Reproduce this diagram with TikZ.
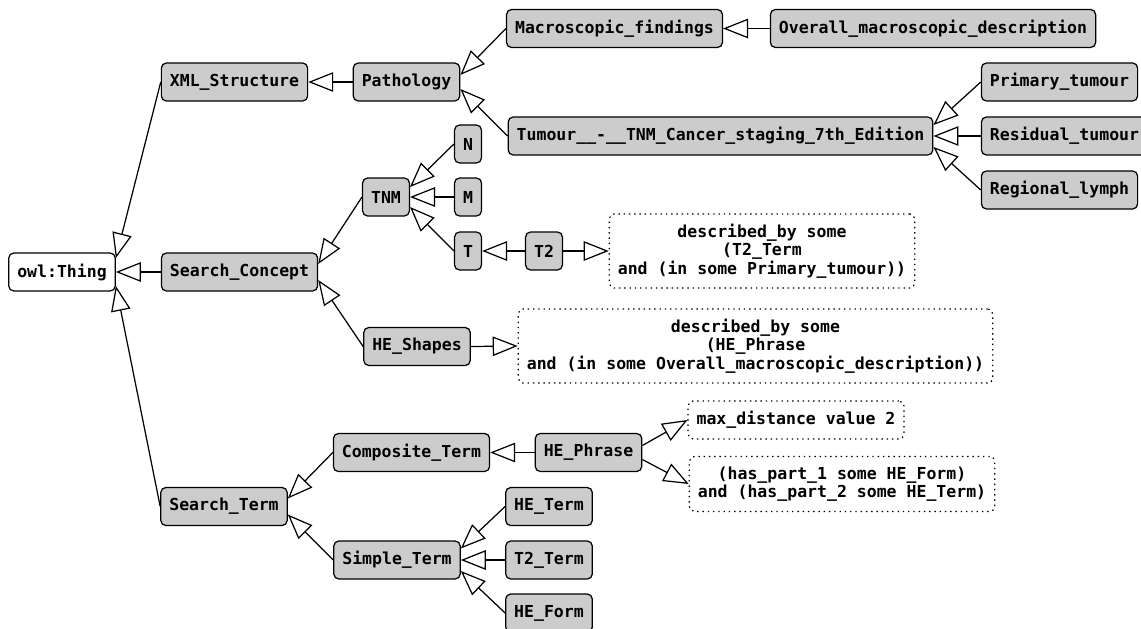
\documentclass[tikz,border=0pt]{standalone}
\usepackage{fontspec}
\setmonofont{DejaVu Sans Mono}
\usetikzlibrary{arrows.meta}
\definecolor{cgray}{rgb}{0.8, 0.8, 0.8}

\tikzset{
  label font/.style={font=\ttfamily\bfseries\fontsize{9.4}{10.5}\selectfont},
  cls/.style={draw, fill=cgray, rounded corners=0.1cm, line width=0.7pt, label font,
    inner xsep=0.17cm, inner ysep=0pt, minimum height=0.76cm},
  root/.style={cls, fill=white},
  restr/.style={draw, dash pattern=on 0.8pt off 2.2pt, rounded corners=0.1cm, line width=0.7pt,
    label font, align=center, inner xsep=0.17cm, inner ysep=0.2cm, minimum height=0.76cm},
  isa/.style={line width=0.7pt, -{Triangle[length=0.5cm, width=0.39cm, fill=white]}},
}

\begin{document}
\begin{tikzpicture}[x=0.02cm, y=-0.02cm]
  \useasboundingbox (0, 0) rectangle (1141, 628);

  % root and first level
  \node [root] (owl) at (62, 272) {owl:Thing};
  \node [cls] (xml) at (234.5, 82) {XML\_Structure};
  \node [cls] (sconcept) at (239.5, 272) {Search\_Concept};
  \node [cls] (sterm) at (224, 506.5) {Search\_Term};

  % pathology branch
  \node [cls] (patho) at (406.5, 82) {Pathology};
  \node [cls] (macro) at (614.5, 28.5) {Macroscopic\_findings};
  \node [cls] (overall) at (933, 28.5) {Overall\_macroscopic\_description};
  \node [cls] (tumour) at (720.5, 136) {Tumour\_\_-\_\_TNM\_Cancer\_staging\_7th\_Edition};
  \node [cls] (primary) at (1059.5, 82) {Primary\_tumour};
  \node [cls] (residual) at (1064.5, 136) {Residual\_tumour};
  \node [cls] (regional) at (1059.5, 190) {Regional\_lymph};

  % search concepts
  \node [cls] (tnm) at (386, 197) {TNM};
  \node [cls] (n) at (468, 144) {N};
  \node [cls] (m) at (468, 197) {M};
  \node [cls] (t) at (468, 251) {T};
  \node [cls] (ttwo) at (544, 251) {T2};
  \node [restr] (ttwodesc) at (762, 251) {described\_by some\\(T2\_Term\\and (in some Primary\_tumour))};
  \node [cls] (heshapes) at (417, 346.5) {HE\_Shapes};
  \node [restr] (heshapesdesc) at (755.5, 346) {described\_by some\\(HE\_Phrase\\and (in some Overall\_macroscopic\_description))};

  % search terms
  \node [cls] (composite) at (411.5, 452.5) {Composite\_Term};
  \node [cls] (hephrase) at (588.5, 452.5) {HE\_Phrase};
  \node [restr] (maxdist) at (796, 420) {max\_distance value 2};
  \node [restr] (haspart) at (842, 484) {(has\_part\_1 some HE\_Form)\\and (has\_part\_2 some HE\_Term)};
  \node [cls] (simple) at (397, 560) {Simple\_Term};
  \node [cls] (heterm) at (549, 506.5) {HE\_Term};
  \node [cls] (ttwoterm) at (549, 560) {T2\_Term};
  \node [cls] (heform) at (549, 613) {HE\_Form};

  % subclass edges
  \draw [isa] (xml.west) -- ([yshift=0.28cm]owl.east);
  \draw [isa] (sconcept.west) -- (owl.east);
  \draw [isa] (sterm.west) -- ([yshift=-0.28cm]owl.east);

  \draw [isa] (patho.west) -- (xml.east);
  \draw [isa] (macro.west) -- ([yshift=0.14cm]patho.east);
  \draw [isa] (tumour.west) -- ([yshift=-0.14cm]patho.east);
  \draw [isa] (overall.west) -- (macro.east);
  \draw [isa] (primary.west) -- ([yshift=0.22cm]tumour.east);
  \draw [isa] (residual.west) -- (tumour.east);
  \draw [isa] (regional.west) -- ([yshift=-0.22cm]tumour.east);

  \draw [isa] (tnm.west) -- ([yshift=0.16cm]sconcept.east);
  \draw [isa] (heshapes.west) -- ([yshift=-0.16cm]sconcept.east);
  \draw [isa] (n.west) -- ([yshift=0.2cm]tnm.east);
  \draw [isa] (m.west) -- (tnm.east);
  \draw [isa] (t.west) -- ([yshift=-0.2cm]tnm.east);
  \draw [isa] (ttwo.west) -- (t.east);

  \draw [isa] (composite.west) -- ([yshift=0.16cm]sterm.east);
  \draw [isa] (simple.west) -- ([yshift=-0.16cm]sterm.east);
  \draw [isa] (hephrase.west) -- (composite.east);
  \draw [isa] (heterm.west) -- ([yshift=0.23cm]simple.east);
  \draw [isa] (ttwoterm.west) -- (simple.east);
  \draw [isa] (heform.west) -- ([yshift=-0.22cm]simple.east);

  % restrictions
  \draw [isa] (ttwo.east) -- (ttwodesc.west);
  \draw [isa] (heshapes.east) -- (heshapesdesc.west);
  \draw [isa] ([yshift=0.14cm]hephrase.east) -- (maxdist.west);
  \draw [isa] ([yshift=-0.14cm]hephrase.east) -- (haspart.west);
\end{tikzpicture}
\end{document}
